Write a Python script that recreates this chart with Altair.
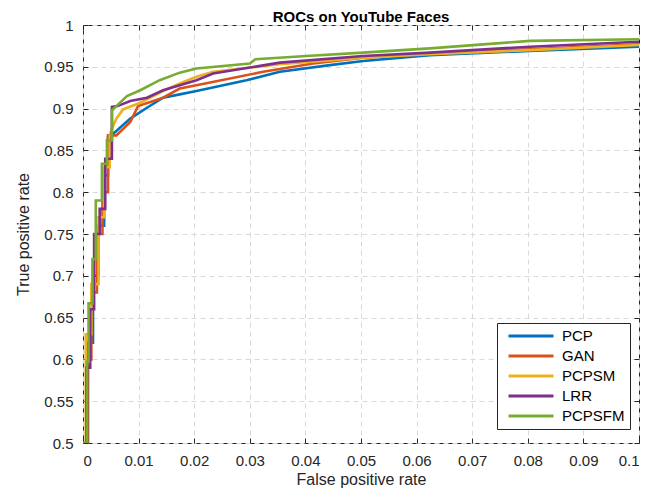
import altair as alt
import pandas as pd

SERIES = ["PCP", "GAN", "PCPSM", "LRR", "PCPSFM"]
COLORS = ["#0072BD", "#D95319", "#EDB120", "#7E2F8E", "#77AC30"]

PCP_FPR = [0, 0.0009, 0.0009, 0.0018, 0.0018, 0.0028, 0.0028, 0.0038, 0.0038, 0.0045, 0.0045,
           0.0058, 0.0085, 0.0115, 0.0144, 0.0174, 0.0204, 0.0294, 0.0354, 0.0444, 0.0504,
           0.0624, 0.0804, 0.1]
PCP_TPR = [0.5, 0.5, 0.62, 0.62, 0.70, 0.70, 0.76, 0.76, 0.82, 0.82, 0.866,
           0.872, 0.888, 0.901, 0.913, 0.917, 0.921, 0.934, 0.944, 0.952, 0.957,
           0.964, 0.969, 0.974]

GAN_FPR = [0, 0.0008, 0.0008, 0.0015, 0.0015, 0.0025, 0.0025, 0.0035, 0.0035, 0.0045, 0.0045,
           0.006, 0.0085, 0.0099, 0.0144, 0.0174, 0.0204, 0.0324, 0.0414, 0.0504, 0.0624,
           0.0804, 0.1]
GAN_TPR = [0.5, 0.5, 0.60, 0.60, 0.68, 0.68, 0.75, 0.75, 0.80, 0.80, 0.868,
           0.868, 0.884, 0.903, 0.913, 0.924, 0.928, 0.944, 0.954, 0.961, 0.966,
           0.971, 0.977]

PCPSM_FPR = [0, 0.0005, 0.0005, 0.0015, 0.0015, 0.0028, 0.0028, 0.0038, 0.0038, 0.0048, 0.0048,
             0.0052, 0.006, 0.0072, 0.0103, 0.0144, 0.0174, 0.0204, 0.0234, 0.0354, 0.0504,
             0.0624, 0.0804, 0.1]
PCPSM_TPR = [0.5, 0.5, 0.63, 0.63, 0.69, 0.69, 0.77, 0.77, 0.83, 0.83, 0.868,
             0.876, 0.888, 0.899, 0.907, 0.921, 0.930, 0.938, 0.944, 0.953, 0.961,
             0.965, 0.970, 0.976]

LRR_FPR = [0, 0.0006, 0.0006, 0.0013, 0.0013, 0.002, 0.002, 0.003, 0.003, 0.004, 0.004,
           0.0052, 0.0052, 0.0062, 0.0085, 0.0115, 0.0144, 0.0204, 0.0234, 0.0354, 0.0504,
           0.0624, 0.0804, 0.1]
LRR_TPR = [0.5, 0.5, 0.59, 0.59, 0.66, 0.66, 0.75, 0.75, 0.78, 0.78, 0.84,
           0.84, 0.902, 0.903, 0.909, 0.913, 0.922, 0.934, 0.942, 0.955, 0.963,
           0.967, 0.974, 0.980]

PCPSFM_FPR = [0, 0.0007, 0.0007, 0.001, 0.001, 0.0017, 0.0017, 0.0023, 0.0023, 0.0034, 0.0034,
              0.0043, 0.0043, 0.0052, 0.0052, 0.006, 0.0079, 0.0103, 0.0138, 0.0174, 0.0204,
              0.030, 0.031, 0.0402, 0.0504, 0.0624, 0.0804, 0.1]
PCPSFM_TPR = [0.5, 0.5, 0.597, 0.597, 0.667, 0.667, 0.72, 0.72, 0.79, 0.79, 0.834,
              0.834, 0.862, 0.862, 0.898, 0.903, 0.915, 0.922, 0.934, 0.943, 0.948,
              0.954, 0.959, 0.963, 0.967, 0.972, 0.981, 0.983]

X_TICKS = [0, 0.01, 0.02, 0.03, 0.04, 0.05, 0.06, 0.07, 0.08, 0.09, 0.1]
Y_TICKS = [0.5, 0.55, 0.6, 0.65, 0.7, 0.75, 0.8, 0.85, 0.9, 0.95, 1]

CURVES = {
    "PCP": (PCP_FPR, PCP_TPR),
    "GAN": (GAN_FPR, GAN_TPR),
    "PCPSM": (PCPSM_FPR, PCPSM_TPR),
    "LRR": (LRR_FPR, LRR_TPR),
    "PCPSFM": (PCPSFM_FPR, PCPSFM_TPR),
}

rows = []
for si, name in enumerate(SERIES):
    fx, ty = CURVES[name]
    for i, (a, b) in enumerate(zip(fx, ty)):
        rows.append({"series": name, "fpr": a, "tpr": b, "idx": i, "sidx": si})
df = pd.DataFrame(rows)

W, H = 556, 418
AX = "#262626"

xscale = alt.Scale(domain=[0, 0.1], nice=False, zero=False)
yscale = alt.Scale(domain=[0.5, 1], nice=False, zero=False)

lines = alt.Chart(df).mark_line(strokeWidth=2.6, clip=True).encode(
    x=alt.X("fpr:Q", scale=xscale,
            axis=alt.Axis(orient="bottom", values=X_TICKS, format="~g", title="False positive rate",
                          grid=True, gridDash=[5, 4], gridColor="#d9d9d9", ticks=False, domain=False,
                          labelPadding=10, titlePadding=3)),
    y=alt.Y("tpr:Q", scale=yscale,
            axis=alt.Axis(orient="left", values=Y_TICKS, format="~g", title="True positive rate",
                          grid=True, gridDash=[5, 4], gridColor="#d9d9d9", ticks=False, domain=False,
                          labelPadding=10, titlePadding=12)),
    color=alt.Color("series:N", scale=alt.Scale(domain=SERIES, range=COLORS),
                    legend=alt.Legend(title=None, orient="none", legendX=414, legendY=298,
                                      fillColor="white", strokeColor=AX, padding=5,
                                      labelFontSize=15, symbolType="stroke", symbolStrokeWidth=3,
                                      symbolSize=2025, symbolOffset=5, labelOffset=7,
                                      clipHeight=16, rowPadding=4)),
    detail="sidx:O",
    order="idx:Q",
)

tick_df = pd.DataFrame({"fpr": X_TICKS, "tpr": Y_TICKS})

ticks_a = alt.Chart(tick_df).mark_point(opacity=0).encode(
    x=alt.X("fpr:Q", scale=xscale,
            axis=alt.Axis(orient="top", offset=-H, values=X_TICKS, labels=False, ticks=True, tickSize=5,
                          tickColor=AX, domain=False, grid=False, title=None)),
    y=alt.Y("tpr:Q", scale=yscale,
            axis=alt.Axis(orient="right", offset=-W, values=Y_TICKS, labels=False, ticks=True, tickSize=5,
                          tickColor=AX, domain=False, grid=False, title=None)),
)
ticks_b = alt.Chart(tick_df).mark_point(opacity=0).encode(
    x=alt.X("fpr:Q", scale=xscale,
            axis=alt.Axis(orient="bottom", offset=-H, values=X_TICKS, labels=False, ticks=True, tickSize=5,
                          tickColor=AX, domain=False, grid=False, title=None)),
    y=alt.Y("tpr:Q", scale=yscale,
            axis=alt.Axis(orient="left", offset=-W, values=Y_TICKS, labels=False, ticks=True, tickSize=5,
                          tickColor=AX, domain=False, grid=False, title=None)),
)

chart = alt.layer(lines, ticks_a, ticks_b).resolve_axis(x="independent", y="independent").properties(
    width=W, height=H,
    title=alt.TitleParams("ROCs on YouTube Faces", fontSize=15, fontWeight="bold", anchor="middle",
                          offset=-7, color="black"),
    autosize=alt.AutoSizeParams(type="none"),
    padding={"left": 75, "top": 17, "right": 17, "bottom": 48},
).configure(font="Liberation Sans").configure_axis(
    labelFontSize=15, titleFontSize=16, labelColor="#262626", titleColor="#262626",
    titleFontWeight="normal",
).configure_view(stroke=AX, strokeWidth=1).configure_legend(
    labelColor="black"
)

chart.save("out.html", embed_options={"renderer": "svg", "actions": False})
